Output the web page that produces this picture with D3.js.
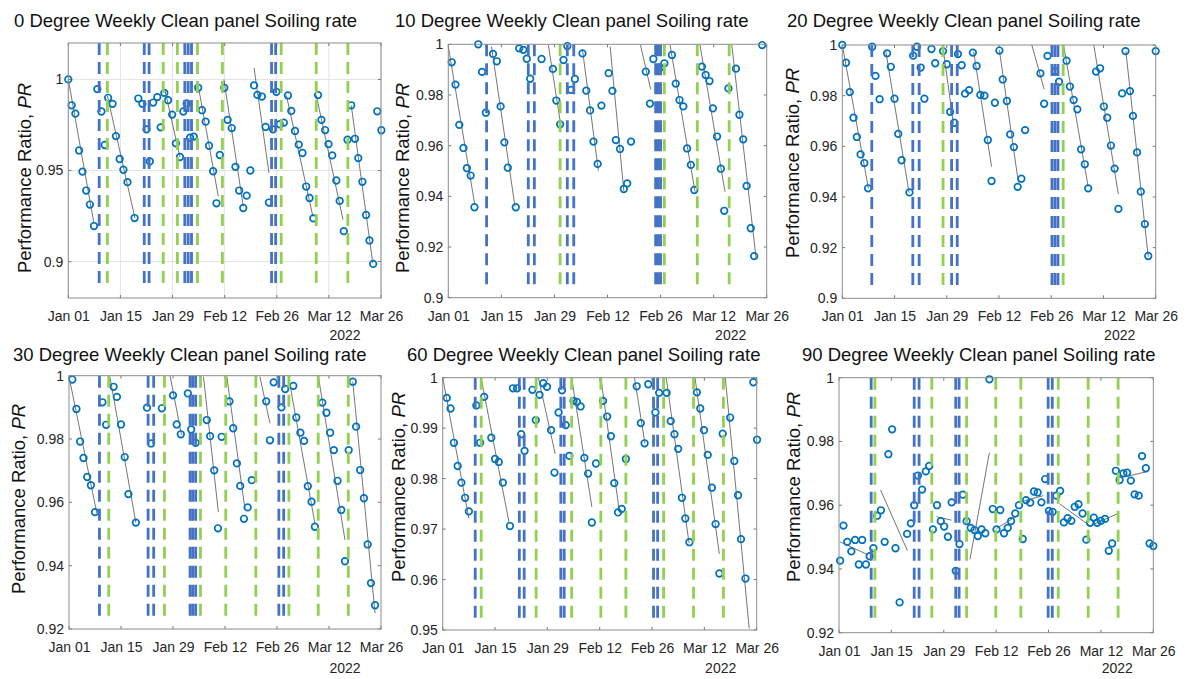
<!DOCTYPE html>
<html>
<head>
<meta charset="utf-8">
<script src="https://cdn.jsdelivr.net/npm/d3@7"></script>
<style>
  html, body { margin: 0; padding: 0; background: #fff; }
  svg { display: block; font-family: "Liberation Sans", Arial, sans-serif; }
</style>
</head>
<body>
<svg id="chart" width="1187" height="679"></svg>
<script>
// Daily performance ratio per tilt angle: [day offset from 2022-01-01, PR]
const pr0 = [[0,1.000],[0.9,0.9858],[1.9,0.9812],[2.9,0.961],[3.8,0.9494],[4.8,0.939],[5.8,0.9313],[6.9,0.9195],
  [7.8,0.9947],[8.9,0.9824],[9.8,0.964],[10.7,0.9899],[11.9,0.9866],[12.8,0.9689],[13.8,0.9563],[14.8,0.9504],[15.9,0.9436],
  [17.8,0.9239],[18.8,0.9895],[19.9,0.9866],[21.0,0.9726],[21.9,0.955],[22.8,0.9873],[23.9,0.9903],[24.8,0.9737],
  [25.8,0.9926],[26.8,0.9886],[27.9,0.9807],[28.9,0.9649],[30.0,0.9574],[30.9,0.9824],[31.8,0.9868],[32.7,0.968],
  [33.7,0.9686],[34.9,0.9954],[35.9,0.9831],[36.9,0.9768],[37.8,0.9636],[38.9,0.9496],[39.8,0.932],[40.7,0.9585],
  [41.9,0.9954],[42.8,0.9778],[43.9,0.9733],[44.9,0.952],[45.9,0.939],[47.0,0.9294],[47.9,0.9362],[48.9,0.95],
  [49.9,0.9967],[50.8,0.9915],[52.0,0.9906],[53.0,0.9739],[53.9,0.9324],[55.0,0.9726],[55.9,0.9932],[56.8,0.9754],
  [57.9,0.9763],[59.0,0.9912],[59.9,0.9827],[60.9,0.9717],[61.9,0.9642],[62.9,0.9596],[63.9,0.9412],[64.8,0.9349],
  [65.8,0.9237],[67.1,0.9914],[68.0,0.9778],[69.0,0.9722],[69.9,0.9645],[70.9,0.9583],[72.0,0.9445],[72.9,0.9333],
  [74.0,0.9167],[75.0,0.9669],[76.0,0.9858],[77.0,0.9674],[77.9,0.9568],[79.0,0.9438],[80.0,0.9256],[80.9,0.9116],
  [81.9,0.8987],[83.0,0.9825],[84.1,0.9721]];

const pr10 = [[0.9,0.9929],[1.9,0.9841],[2.9,0.9682],[4.0,0.9591],[4.9,0.9511],[5.9,0.9482],[6.9,0.9357],[7.9,1.0],
  [8.9,0.9891],[9.9,0.973],[11.8,0.9962],[12.8,0.9933],[13.8,0.9755],[14.8,0.9613],[15.7,0.9513],[17.8,0.9357],
  [18.7,0.9984],[19.8,0.9978],[20.7,0.9943],[21.6,0.9864],[24.6,0.9942],[27.6,0.9903],[28.5,0.9778],[29.5,0.9684],
  [30.4,0.9938],[31.4,0.9993],[32.4,0.982],[33.4,0.9863],[35.4,0.9964],[36.4,0.9817],[37.4,0.9739],[38.3,0.9616],
  [39.4,0.9528],[40.4,0.9758],[42.3,0.9886],[43.3,0.9816],[44.2,0.9622],[45.3,0.9587],[46.3,0.9429],[47.2,0.9451],
  [48.2,0.9616],[52.1,0.9892],[53.2,0.9766],[54.1,0.9942],[55.9,0.9908],[57.0,0.9925],[59.0,0.9958],[60.0,0.9845],
  [61.0,0.978],[62.0,0.9755],[63.0,0.9589],[64.0,0.9524],[64.9,0.9425],[66.9,0.9912],[67.9,0.9879],[68.9,0.9855],
  [69.8,0.9747],[70.9,0.9636],[71.9,0.9509],[72.8,0.9343],[73.9,0.9826],[75.9,0.9904],[76.8,0.9722],[77.8,0.9625],
  [78.7,0.9441],[79.8,0.9274],[80.7,0.9164],[82.8,0.9997]];

const pr20 = [[0,1.0],[1.0,0.993],[2.0,0.9814],[3.0,0.9713],[3.9,0.9637],[4.9,0.9568],[5.9,0.9534],[6.9,0.9434],
  [8.0,0.9993],[8.9,0.9878],[10.0,0.9786],[12.0,0.9967],[13.0,0.9914],[14.0,0.9788],[15.0,0.9649],[15.9,0.9545],
  [18.0,0.9418],[19.0,0.9958],[20.0,0.9993],[21.0,0.9911],[22.0,0.9788],[23.9,0.9984],[24.9,0.9928],[27.0,0.9976],
  [28.0,0.9924],[28.9,0.9736],[30.0,0.9693],[31.0,0.9964],[32.0,0.992],[32.9,0.9808],[34.0,0.9822],[35.0,0.997],
  [36.0,0.9917],[37.0,0.9803],[38.1,0.98],[39.0,0.9625],[40.0,0.9463],[40.9,0.9772],[42.1,0.9978],[43.0,0.9864],
  [44.1,0.9779],[45.0,0.9647],[46.0,0.9597],[47.0,0.944],[48.0,0.9472],[49.0,0.9664],[53.1,0.9888],[54.1,0.9768],
  [55.0,0.9957],[57.0,0.9896],[58.1,0.9855],[60.1,0.9938],[61.0,0.9836],[62.0,0.9783],[63.0,0.9746],[64.0,0.9588],
  [65.0,0.9529],[65.9,0.9434],[68.0,0.9895],[69.1,0.9908],[70.1,0.9757],[71.0,0.9713],[72.0,0.9603],[73.0,0.9512],
  [74.0,0.9353],[75.0,0.9809],[75.9,0.9976],[77.1,0.9818],[77.9,0.972],[79.0,0.9576],[80.0,0.9421],[81.1,0.9293],
  [82.0,0.9167],[84.0,0.9976]];

const pr30 = [[0.9,0.9988],[2.0,0.9895],[3.0,0.9792],[3.9,0.974],[4.9,0.968],[5.9,0.9654],[7.0,0.9569],[9.0,0.9916],
  [10.0,0.9845],[12.0,0.9965],[12.9,0.9933],[14.0,0.9846],[15.0,0.9743],[16.0,0.9626],[18.0,0.9536],[21.0,0.9899],
  [22.1,0.9786],[25.0,0.9897],[28.0,0.9938],[29.0,0.9846],[30.1,0.9815],[32.0,0.9944],[32.9,0.983],[34.1,0.9788],
  [37.1,0.986],[38.0,0.9809],[39.1,0.9701],[40.1,0.9518],[41.1,0.9807],[43.2,0.9919],[44.2,0.9834],[45.2,0.9723],
  [46.1,0.9652],[47.1,0.9548],[48.1,0.9584],[49.2,0.967],[53.1,0.9919],[54.1,0.9796],[55.1,0.9979],[57.2,0.99],
  [58.2,0.9958],[60.4,0.9968],[61.2,0.9868],[62.3,0.982],[63.3,0.9794],[64.3,0.9651],[65.3,0.9602],[66.2,0.9523],
  [68.2,0.9915],[69.3,0.9883],[70.3,0.982],[71.3,0.9765],[72.3,0.9668],[73.3,0.9576],[74.3,0.9414],[75.3,0.9765],
  [76.4,0.9981],[77.3,0.9839],[78.4,0.9702],[79.4,0.9613],[80.4,0.9467],[81.3,0.9345],[82.4,0.9275]];

const pr60 = [[1.1,0.996],[2.1,0.9939],[3.0,0.9871],[4.0,0.9825],[5.0,0.9792],[6.0,0.9762],[7.0,0.9735],[9.0,0.9945],
  [10.0,0.9871],[11.1,0.9962],[13.0,0.9881],[14.0,0.9839],[15.0,0.9833],[16.1,0.9792],[18.0,0.9706],[18.8,0.9979],
  [19.9,0.9979],[21.0,0.9888],[21.9,0.9855],[24.0,0.9976],[24.9,0.9916],[25.9,0.9966],[26.9,0.9989],[27.9,0.9982],
  [29.0,0.9896],[29.9,0.9812],[31.0,0.9931],[31.9,0.9975],[32.9,0.9906],[33.9,0.9845],[35.0,0.9954],[35.9,0.9952],
  [36.9,0.9943],[37.9,0.9841],[38.9,0.981],[39.9,0.9713],[41.0,0.983],[42.9,0.9954],[44.0,0.9923],[45.0,0.9884],
  [45.9,0.9791],[46.9,0.9733],[47.9,0.974],[49.0,0.9839],[51.9,0.9983],[53.0,0.991],[54.0,0.987],[55.0,0.9987],
  [56.9,0.9931],[57.9,0.997],[59.9,0.997],[61.0,0.9914],[62.0,0.9888],[63.0,0.9859],[64.0,0.9762],[64.9,0.9721],
  [66.0,0.9674],[68.0,0.9971],[68.9,0.9939],[69.9,0.9896],[70.9,0.9847],[72.0,0.9782],[73.0,0.971],[74.0,0.9612],
  [74.9,0.9889],[76.9,0.9921],[78.0,0.9835],[79.0,0.9767],[79.8,0.968],[81.0,0.9602],[83.1,0.9991],[84.1,0.9877]];

const pr90 = [[0.3,0.9426],[1.2,0.9536],[2.2,0.9485],[3.3,0.9455],[4.3,0.9491],[5.3,0.9414],[6.2,0.9491],[7.2,0.9414],
  [8.2,0.944],[9.2,0.9465],[10.2,0.9567],[11.2,0.9584],[12.2,0.9485],[13.2,0.976],[14.2,0.9838],[15.1,0.9465],
  [16.2,0.9295],[18.2,0.951],[19.2,0.9543],[20.1,0.96],[21.1,0.9693],[22.2,0.9649],[23.2,0.9706],[24.1,0.9723],
  [25.1,0.9524],[26.2,0.96],[27.2,0.955],[28.1,0.9533],[29.1,0.9501],[30.1,0.9609],[31.2,0.9394],[32.2,0.9478],
  [33.1,0.9633],[34.1,0.955],[35.2,0.9529],[36.2,0.9522],[37.1,0.9503],[38.1,0.9524],[39.1,0.9512],[40.2,0.9995],
  [41.1,0.9588],[42.1,0.9524],[43.1,0.9585],[44.1,0.9512],[45.1,0.9529],[46.0,0.955],[47.1,0.9574],[48.1,0.96],
  [49.1,0.9494],[50.0,0.9616],[51.1,0.9608],[52.1,0.9643],[53.1,0.964],[54.1,0.9609],[55.1,0.9682],[56.1,0.9582],
  [57.1,0.9579],[58.1,0.963],[59.1,0.9645],[60.1,0.9546],[61.1,0.9559],[62.1,0.9551],[63.0,0.9595],[64.0,0.9603],
  [65.1,0.9574],[66.1,0.9492],[67.1,0.9545],[68.1,0.9561],[69.0,0.9545],[70.0,0.9551],[71.1,0.9557],[72.1,0.9457],
  [73.0,0.948],[74.0,0.9708],[75.0,0.9679],[76.0,0.97],[77.0,0.9702],[78.0,0.9677],[79.0,0.9634],[80.1,0.963],
  [81.0,0.9754],[82.0,0.9716],[83.0,0.948],[84.0,0.9472]];

// Linear soiling fits between cleanings: [startDay, startPR, endDay, endPR]
const fit0 = [[0,1.0,6.9,0.9208],[10.5,0.991,17.9,0.9239],[25.9,0.9947,30,0.9572],[34.9,0.9965,40.3,0.9358],
  [41.8,1.0,47,0.9303],[49.9,1.0063,53.9,0.9487],[58.6,0.9912,65.7,0.9248],[66.6,0.9914,73.8,0.923],[76,0.9858,81.8,0.8991]];
const fit10 = [[0,0.9991,7,0.9366],[11.4,0.9991,17.6,0.9359],[26.4,0.9997,29.7,0.9678],[35.4,0.9978,39.6,0.9501],
  [42.7,0.9991,46.3,0.9422],[50.7,0.9997,53.4,0.9822],[58.5,0.9997,65.1,0.9418],[66.4,0.9997,73,0.9418],[74.8,0.9997,81.2,0.9155]];
const fit20 = [[0,1.0,7,0.9434],[11.6,0.998,17.9,0.9417],[27,0.9987,29.8,0.9688],[35.2,0.9974,40,0.952],
  [42.1,0.998,47.2,0.9457],[50.8,1.0,54.1,0.9825],[59.3,1.0,65.9,0.9441],[67.4,1.0,74,0.9411],[76,0.9976,82,0.9164]];
const fit30 = [[0,0.9997,7.5,0.9565],[11,0.9997,18,0.9536],[27.2,1.0,30.3,0.9813],[36.2,0.9997,40.2,0.957],
  [42.5,0.9997,47.4,0.9576],[51.4,0.9997,54.1,0.985],[59.1,0.9997,66.2,0.9534],[67.1,1.0,74.3,0.9481],[76.4,0.9981,82.4,0.925]];
const fit60 = [[0,1.0,7,0.9721],[10.4,0.9995,17.8,0.9711],[25.6,1.0,30.1,0.9849],[34.5,1.0,39.9,0.9744],
  [42.3,1.0,47.3,0.9733],[51.3,1.0,54.1,0.987],[59.8,1.0,65.9,0.9672],[67.5,1.0,74,0.9651],[75.6,1.0,82,0.9503]];
const fit90 = [[0.3,0.9485,7.8,0.9444],[11.1,0.9648,18.3,0.9457],[26.1,0.9564,30.1,0.9553],[35,0.943,40.2,0.9765],
  [42.1,0.9527,47.9,0.9569],[48.8,0.9611,54.6,0.963],[59,0.9604,67.1,0.9535],[67.1,0.9535,74.6,0.9574],[76.4,0.9689,82.2,0.9705]];

// Cleaning events (day offsets): manual cleanings and rain events
const blue0 = [8.3,20.4,21.7,31.3,32.2,33.1,54.6,55.7];
const green0 = [10.5,25.5,29.3,34.7,41.4,57.2,66.6,75.1];
const blue10 = [10.1,21.1,22.7,31.4,33.1,54.7,55.4,56.0];
const green10 = [29.5,57.0,65.7,74.1];
const blue20 = [7.9,18.9,20.6,29.3,30.8,56.2,57.0,57.8];
const green20 = [27.0,59.2];
const blue30 = [8.2,21.3,22.8,32.6,33.3,34.1,56.5,57.8];
const green30 = [10.7,25.7,35.4,42.2,50.3,59.2,67.1,75.2];
const blue60 = [8.7,20.5,21.8,31.6,32.5,56.4,57.5];
const green60 = [10.3,25.0,34.5,42.3,49.0,59.1,67.1,75.1];
const blue90 = [8.6,20.1,21.4,31.2,32.1,55.9,57.0];
const green90 = [9.6,24.8,34.1,41.9,48.6,58.6,66.6,74.6];

// PR extent of the event markers
const span0 = [0.887,1.02], span10 = [0.905,1.0], span20 = [0.905,1.0];
const span30 = [0.924,1.0], span60 = [0.952,1.0], span90 = [0.923,1.0];

// Axis domains and tick values
const yDom0 = [0.88,1.02], yDom10 = [0.9,1], yDom20 = [0.9,1];
const yDom30 = [0.92,1], yDom60 = [0.95,1], yDom90 = [0.92,1];
const yTicks0 = [0.9,0.95,1];
const yTicks10 = [0.9,0.92,0.94,0.96,0.98,1];
const yTicks20 = [0.9,0.92,0.94,0.96,0.98,1];
const yTicks30 = [0.92,0.94,0.96,0.98,1];
const yTicks60 = [0.95,0.96,0.97,0.98,0.99,1];
const yTicks90 = [0.92,0.94,0.96,0.98,1];
const xStart = Date.UTC(2022,0,1), xEnd = Date.UTC(2022,2,26);
const xTickDays = [0,14,28,42,56,70,84];
const titles = ["0 Degree Weekly Clean panel Soiling rate","10 Degree Weekly Clean panel Soiling rate",
  "20 Degree Weekly Clean panel Soiling rate","30 Degree Weekly Clean panel Soiling rate",
  "60 Degree Weekly Clean panel Soiling rate","90 Degree Weekly Clean panel Soiling rate"];
const yearLabel = "2022";

const panels = [
  {title:titles[0], pts:pr0, fits:fit0, blue:blue0, green:green0, span:span0, yDom:yDom0, yTicks:yTicks0, grid:true,
   box:[68.3,381,43,298], titleX:14, titleY:27, ylab:[24,178], yearY:340},
  {title:titles[1], pts:pr10, fits:fit10, blue:blue10, green:green10, span:span10, yDom:yDom10, yTicks:yTicks10,
   box:[448.3,766.7,44.3,297.7], titleX:395, titleY:27, ylab:[402,178], yearY:340},
  {title:titles[2], pts:pr20, fits:fit20, blue:blue20, green:green20, span:span20, yDom:yDom20, yTicks:yTicks20,
   box:[842.3,1155.7,45,298.3], titleX:787, titleY:27, ylab:[792,163], yearY:340},
  {title:titles[3], pts:pr30, fits:fit30, blue:blue30, green:green30, span:span30, yDom:yDom30, yTicks:yTicks30,
   box:[69,381,375.7,629], titleX:13, titleY:361, ylab:[18,499], yearY:673},
  {title:titles[4], pts:pr60, fits:fit60, blue:blue60, green:green60, span:span60, yDom:yDom60, yTicks:yTicks60,
   box:[442.7,756.7,377.7,630], titleX:407, titleY:361, ylab:[398,487], yearY:673},
  {title:titles[5], pts:pr90, fits:fit90, blue:blue90, green:green90, span:span90, yDom:yDom90, yTicks:yTicks90,
   box:[839,1153.3,377.7,632.7], titleX:802, titleY:361, ylab:[793,487], yearY:673}
];

const DAY = 86400000;
const toDate = d => new Date(xStart + d * DAY);
const svg = d3.select("#chart");
const fmt = d3.utcFormat("%b %d");
const txt = "#262626";
const FONT = "Liberation Sans, Arial, sans-serif";

panels.forEach(p => {
  const [x0, x1, y0, y1] = p.box;
  const x = d3.scaleUtc().domain([new Date(xStart), new Date(xEnd)]).range([x0, x1]);
  const y = d3.scaleLinear().domain(p.yDom).range([y1, y0]);
  const g = svg.append("g");

  // grid (first panel only)
  if (p.grid) {
    g.selectAll(".gx").data(xTickDays).join("line")
      .attr("x1", d => x(toDate(d))).attr("x2", d => x(toDate(d)))
      .attr("y1", y0).attr("y2", y1).attr("stroke", "#e3e3e3").attr("stroke-width", 1);
    g.selectAll(".gy").data(p.yTicks).join("line")
      .attr("x1", x0).attr("x2", x1).attr("y1", d => y(d)).attr("y2", d => y(d))
      .attr("stroke", "#e3e3e3").attr("stroke-width", 1);
  }

  // bottom axis
  const xAxis = d3.axisBottom(x).tickValues(xTickDays.map(toDate)).tickFormat(fmt).tickSize(0).tickPadding(13);
  const gx = g.append("g").attr("transform", `translate(0,${y1})`).call(xAxis);
  gx.select(".domain").remove();
  gx.selectAll("text").attr("font-size", 14).attr("fill", txt).attr("font-family", FONT);

  // left axis
  const yAxis = d3.axisLeft(y).tickValues(p.yTicks).tickFormat(d3.format("")).tickSize(0).tickPadding(5);
  const gy = g.append("g").attr("transform", `translate(${x0},0)`).call(yAxis);
  gy.select(".domain").remove();
  gy.selectAll("text").attr("font-size", 14).attr("fill", txt).attr("font-family", FONT);

  // inward tick marks on all sides
  const tl = 3;
  xTickDays.forEach(d => {
    const xx = x(toDate(d));
    g.append("line").attr("x1", xx).attr("x2", xx).attr("y1", y1).attr("y2", y1 - tl).attr("stroke", "#777");
    g.append("line").attr("x1", xx).attr("x2", xx).attr("y1", y0).attr("y2", y0 + tl).attr("stroke", "#777");
  });
  p.yTicks.forEach(v => {
    const yy = y(v);
    g.append("line").attr("x1", x0).attr("x2", x0 + tl).attr("y1", yy).attr("y2", yy).attr("stroke", "#777");
    g.append("line").attr("x1", x1).attr("x2", x1 - tl).attr("y1", yy).attr("y2", yy).attr("stroke", "#777");
  });

  // fitted soiling lines
  g.selectAll(".fit").data(p.fits).join("line")
    .attr("x1", d => x(toDate(d[0]))).attr("y1", d => y(d[1]))
    .attr("x2", d => x(toDate(d[2]))).attr("y2", d => y(d[3]))
    .attr("stroke", "#3a3a3a").attr("stroke-width", 0.7);

  // measured PR
  g.selectAll(".pt").data(p.pts).join("circle")
    .attr("cx", d => x(toDate(d[0]))).attr("cy", d => y(d[1])).attr("r", 3.3)
    .attr("fill", "none").attr("stroke", "#0072BD").attr("stroke-width", 1.7);

  // cleaning event markers
  const ev = (arr, color) => g.selectAll(null).data(arr).join("line")
    .attr("x1", d => x(toDate(d))).attr("x2", d => x(toDate(d)))
    .attr("y1", y(p.span[1])).attr("y2", y(p.span[0]))
    .attr("stroke", color).attr("stroke-width", 2.8).attr("stroke-dasharray", "12,7");
  ev(p.blue, "#4472C4");
  ev(p.green, "#92D050");

  // axes box
  g.append("rect").attr("x", x0).attr("y", y0).attr("width", x1 - x0).attr("height", y1 - y0)
    .attr("fill", "none").attr("stroke", "#8c8c8c").attr("stroke-width", 1);

  // title
  g.append("text").attr("x", p.titleX).attr("y", p.titleY).attr("font-size", 18.5).attr("fill", "#111")
    .text(p.title);

  // y label
  const yl = g.append("text").attr("transform", `translate(${p.ylab[0]},${p.ylab[1]}) rotate(-90)`)
    .attr("text-anchor", "middle").attr("dominant-baseline", "central").attr("font-size", 18.5).attr("fill", "#111");
  yl.append("tspan").text("Performance Ratio, ");
  yl.append("tspan").attr("font-style", "italic").text("PR");

  // year label
  g.append("text").attr("x", x1 - 36).attr("y", p.yearY).attr("text-anchor", "middle")
    .attr("font-size", 14).attr("fill", txt).text(yearLabel);
});
</script>
</body>
</html>
